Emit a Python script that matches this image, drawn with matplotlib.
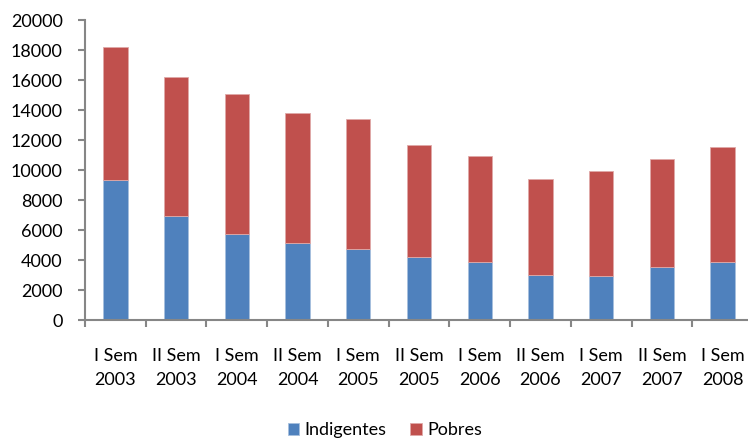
import matplotlib
matplotlib.use("Agg")
import matplotlib.pyplot as plt
import numpy as np

categories = ["I Sem\n2003", "II Sem\n2003", "I Sem\n2004", "II Sem\n2004", "I Sem\n2005",
              "II Sem\n2005", "I Sem\n2006", "II Sem\n2006", "I Sem\n2007", "II Sem\n2007",
              "I Sem\n2008"]
indigentes = [9350, 6950, 5750, 5150, 4750, 4200, 3870, 3000, 2930, 3550, 3900]
totales = [18200, 16200, 15100, 13800, 13400, 11700, 10950, 9400, 9950, 10750, 11550]
pobres = [t - i for t, i in zip(totales, indigentes)]
yticks = list(range(0, 20001, 2000))

plt.rcParams['font.family'] = ['Lato', 'DejaVu Sans']
fig = plt.figure(figsize=(7.48, 4.4), dpi=100)
ax = fig.add_axes([85/748, 1 - 320/440, (753 - 85)/748, 300/440])

x = np.arange(len(categories))
blue = "#4f81bd"
red = "#c0504d"
ax.bar(x, indigentes, width=0.4, color=blue, edgecolor="#a7c0de", linewidth=0.6, label="Indigentes")
ax.bar(x, pobres, bottom=indigentes, width=0.4, color=red, edgecolor="#e0a9a8", linewidth=0.6, label="Pobres")

ax.set_xlim(-0.5, len(categories) - 0.5)
ax.set_ylim(0, 20000)
ax.set_yticks(yticks)
ax.set_yticklabels([str(v) for v in yticks], fontsize=13)
ax.set_xticks(x)
ax.set_xticklabels(categories, fontsize=13, linespacing=1.6)
ax.set_xticks(np.arange(-0.5, len(categories), 1), minor=True)
ax.tick_params(axis='x', which='major', length=0, pad=20)
ax.tick_params(axis='x', which='minor', length=5, width=1.5, color="#868686", direction='out')
ax.tick_params(axis='y', length=5, width=1.5, color="#868686", direction='out', pad=11)

for s in ['top', 'right']:
    ax.spines[s].set_visible(False)
for s in ['left', 'bottom']:
    ax.spines[s].set_color("#868686")
    ax.spines[s].set_linewidth(1.5)

fig.legend(loc='center', bbox_to_anchor=(385/748, 1 - 430/440), ncol=2, frameon=False,
           fontsize=13, handlelength=0.65, handleheight=0.65, handletextpad=0.3, columnspacing=1.3)

fig.savefig("out.png", dpi=100)
